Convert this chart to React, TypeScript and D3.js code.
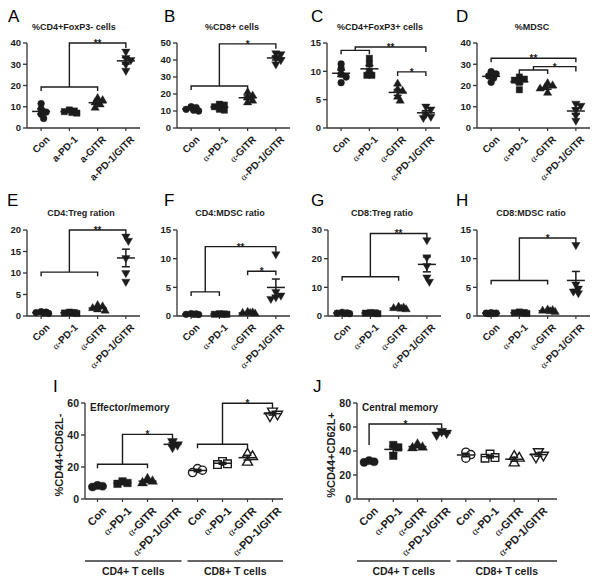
import React from "react";
import * as d3 from "d3";

// ---------- categories ----------
const catsA = ["Con", "a-PD-1", "a-GITR", "a-PD-1/GITR"];
const cats = ["Con", "α-PD-1", "α-GITR", "α-PD-1/GITR"];
const catsIJ = [...cats, ...cats];
const cellGroups = ["CD4+ T cells", "CD8+ T cells"];

// ---------- tick labels ----------
const ticksA = [0, 10, 20, 30, 40];
const ticksB = [0, 10, 20, 30, 40, 50];
const ticksC = [0, 5, 10, 15];
const ticksD = [0, 10, 20, 30, 40];
const ticksE = [0, 5, 10, 15, 20];
const ticksF = [0, 5, 10, 15];
const ticksG = [0, 10, 20, 30];
const ticksH = [0, 5, 10, 15];
const ticksI = [0, 20, 40, 60];
const ticksJ = [0, 20, 40, 60, 80];

// ---------- series values (one array per group) ----------
const cd4FoxP3Neg = [[11.5, 9, 7.5, 6.5, 4.5], [8.5, 8, 7.7, 7.3, 7], [14, 13, 12, 11, 9.5], [36, 33, 32, 30, 27]];
const cd8Pct = [[12.5, 12, 11, 10.5, 10], [14, 13.5, 12.5, 11, 10.5], [21, 19, 18, 16, 15], [44, 43.5, 41, 40, 37.5]];
const cd4FoxP3Pos = [[11.3, 10.5, 9.5, 9, 8], [12.3, 11.3, 10, 9.3, 9.3], [7.8, 6.8, 6.5, 5.5, 4.8], [3.8, 3.3, 2.5, 2, 1.8]];
const mdscPct = [[26.5, 25.5, 24.5, 23.5, 21.5], [24, 23, 22.5, 21.5, 18], [21, 20, 19, 18.5, 16.5], [11.5, 10.5, 8.5, 6, 3.5]];
const cd4TregRatio = [[1, 0.9, 0.8, 0.7, 0.6], [0.9, 0.8, 0.7, 0.7, 0.6], [2.5, 2.2, 1.8, 1.5, 1.2], [18.5, 17.5, 13.5, 10, 8]];
const cd4MdscRatio = [[0.4, 0.35, 0.3, 0.3, 0.25], [0.4, 0.35, 0.3, 0.3, 0.3], [0.7, 0.6, 0.5, 0.5, 0.4], [10.8, 4.2, 3.6, 3.3, 3.0]];
const cd8TregRatio = [[1.3, 1.1, 1, 0.9, 0.8], [1.2, 1.1, 1, 0.9, 0.8], [3.2, 2.9, 2.7, 2.5, 2.3], [26.5, 20.5, 17.5, 13.5, 12]];
const cd8MdscRatio = [[0.6, 0.5, 0.5, 0.45, 0.4], [0.7, 0.6, 0.55, 0.5, 0.45], [1.1, 1.0, 0.9, 0.8, 0.7], [12.4, 5.5, 4.8, 4.3, 4.0]];
const effectorMemory = [[8.5, 8, 7.5], [11, 10, 9.5], [12.5, 11, 10], [36, 34, 32.5], [19, 18, 16.5], [23.5, 22, 21.5], [28, 26.5, 23], [55, 53, 52]];
const centralMemory = [[32, 31, 30.5], [45, 43, 36], [45.5, 43, 42.5], [56.5, 55, 53.5], [39, 37, 34], [37.5, 34.5, 34], [35.5, 34, 30], [39.5, 36.5, 35]];

// ---------- significance brackets (values in data units) ----------
type Bracket =
  | { type: "group"; from: [number, number]; level: number; top: number; to: number; label: string }
  | { type: "simple"; from: number; to: number; level: number; label: string; endL?: number; endR?: number };

const bracketsA: Bracket[] = [{ type: "group", from: [0, 2], level: 19.3, top: 40, to: 3, label: "**" }];
const bracketsB: Bracket[] = [{ type: "group", from: [0, 2], level: 24.7, top: 49.5, to: 3, label: "*" }];
const bracketsC: Bracket[] = [
  { type: "group", from: [0, 1], level: 13.7, top: 14.3, to: 3, label: "**" },
  { type: "simple", from: 2, to: 3, level: 9.9, label: "*" },
];
const bracketsD: Bracket[] = [
  { type: "simple", from: 0, to: 3, level: 32.8, label: "**" },
  { type: "group", from: [1, 2], level: 27.3, top: 28.9, to: 3, label: "*" },
];
const bracketsE: Bracket[] = [{ type: "group", from: [0, 2], level: 10.2, top: 20, to: 3, label: "**" }];
const bracketsF: Bracket[] = [
  { type: "group", from: [0, 1], level: 4.2, top: 12.1, to: 3, label: "**" },
  { type: "simple", from: 2, to: 3, level: 7.8, label: "*" },
];
const bracketsG: Bracket[] = [{ type: "group", from: [0, 2], level: 13.7, top: 28.8, to: 3, label: "**" }];
const bracketsH: Bracket[] = [{ type: "group", from: [0, 2], level: 6.2, top: 13.6, to: 3, label: "*" }];
const bracketsI: Bracket[] = [
  { type: "group", from: [0, 2], level: 21.7, top: 40.4, to: 3, label: "*" },
  { type: "group", from: [4, 6], level: 34.2, top: 59.8, to: 7, label: "*" },
];
const bracketsJ: Bracket[] = [{ type: "simple", from: 0, to: 3, level: 62.5, label: "*", endL: 45, endR: 59 }];

// ---------- style ----------
const FONT = "'Liberation Sans', Arial, Helvetica, sans-serif";
const SERIF = "'Liberation Serif', 'Times New Roman', serif";
const INK = "#1c1c1c";
const AXIS = "#333";

type Shape = "circle" | "square" | "tri" | "triDown";
const shapes8: Shape[] = ["circle", "square", "tri", "triDown", "circle", "square", "tri", "triDown"];

function Marker({ shape, open, cx, cy, scale }: { shape: Shape; open: boolean; cx: number; cy: number; scale: number }) {
  const sizes: Record<Shape, number> = { circle: 36, square: 40, tri: 30, triDown: 30 };
  const type = shape === "circle" ? d3.symbolCircle : shape === "square" ? d3.symbolSquare : d3.symbolTriangle;
  const d = d3.symbol().type(type).size(sizes[shape] * scale * scale)() || "";
  const rot = shape === "triDown" ? " rotate(180)" : "";
  return (
    <path
      d={d}
      transform={`translate(${cx},${cy})${rot}`}
      fill={open ? "#fff" : INK}
      stroke={INK}
      strokeWidth={open ? 1.4 : 0.4}
    />
  );
}

// compact horizontal spread (Prism-like scatter), capped at +/- maxOff px
function swarm(ys: number[], dist: number, maxOff: number): number[] {
  const placed: { x: number; y: number }[] = [];
  const cands = [0];
  for (let k = 1; k * 2.5 <= maxOff + 0.01; k++) cands.push(k * 2.5, -k * 2.5);
  return ys.map((yy) => {
    let best = 0;
    let bestScore = -1;
    for (const c of cands) {
      const md = placed.length ? Math.min(...placed.map((p) => Math.hypot(p.x - c, p.y - yy))) : Infinity;
      if (md >= dist) {
        best = c;
        bestScore = Infinity;
        break;
      }
      if (md > bestScore) {
        bestScore = md;
        best = c;
      }
    }
    placed.push({ x: best, y: yy });
    return best;
  });
}

function CatLabel({ text, x, y, size }: { text: string; x: number; y: number; size: number }) {
  const alpha = text.startsWith("α");
  return (
    <text
      transform={`translate(${x},${y}) rotate(-45)`}
      textAnchor="end"
      dy="0.72em"
      fontSize={size}
      fontWeight="bold"
      fontFamily={FONT}
      fill={INK}
    >
      {alpha ? (
        <>
          <tspan fontFamily={SERIF} fontWeight="normal">α</tspan>
          {text.slice(1)}
        </>
      ) : (
        text
      )}
    </text>
  );
}

type PanelSpec = {
  letter: string;
  letterX: number;
  letterY: number;
  title: string;
  titleX: number;
  titleY: number;
  cats: string[];
  values: number[][];
  ticks: number[];
  brackets: Bracket[];
  x0: number;
  x1: number;
  axisEnd: number;
  yBottom: number;
  yTop: number;
  tickFont: number;
  catFont: number;
  markerScale: number;
  titleAnchor: "middle" | "start";
  titleFont: number;
  spread: number;
  yTitle?: string;
  yTitleX?: number;
};

function Panel({ p }: { p: PanelSpec }) {
  const yMax = p.ticks[p.ticks.length - 1];
  const y = d3.scaleLinear().domain([0, yMax]).range([p.yBottom, p.yTop]);
  const x = d3.scalePoint<number>().domain(d3.range(p.cats.length)).range([p.x0, p.x1]).padding(0.5);
  const X = (i: number) => x(i) as number;
  const drop = 4;

  return (
    <g>
      <text x={p.letterX} y={p.letterY} fontSize={17} fontFamily={FONT} fill="#000">
        {p.letter}
      </text>
      <text x={p.titleX} y={p.titleY} fontSize={p.titleFont} fontWeight="bold" fontFamily={FONT} textAnchor={p.titleAnchor} fill={INK}>
        {p.title}
      </text>
      {/* y axis */}
      <line x1={p.x0} x2={p.x0} y1={y(0)} y2={y(yMax)} stroke={AXIS} strokeWidth={1.3} />
      {p.ticks.map((t) => (
        <g key={"t" + t}>
          <line x1={p.x0 - 4} x2={p.x0} y1={y(t)} y2={y(t)} stroke={AXIS} strokeWidth={1.3} />
          <text x={p.x0 - 6} y={y(t)} dy="0.35em" textAnchor="end" fontSize={p.tickFont} fontWeight="bold" fontFamily={FONT} fill={INK}>
            {t}
          </text>
        </g>
      ))}
      {/* x axis */}
      <line x1={p.x0} x2={p.axisEnd} y1={y(0)} y2={y(0)} stroke={AXIS} strokeWidth={1.3} />
      {p.cats.map((c, i) => (
        <g key={"c" + i}>
          <line x1={X(i)} x2={X(i)} y1={y(0)} y2={y(0) + 3} stroke={AXIS} strokeWidth={1.2} />
          <CatLabel text={c} x={X(i) + 4} y={y(0) + 7} size={p.catFont} />
        </g>
      ))}
      {p.yTitle && (
        <text
          transform={`translate(${p.yTitleX},${(p.yBottom + p.yTop) / 2 + 4}) rotate(-90)`}
          textAnchor="middle"
          fontSize={11}
          fontWeight="bold"
          fontFamily={FONT}
          fill={INK}
        >
          {p.yTitle}
        </text>
      )}
      {/* points, means, SEM */}
      {p.values.map((vals, i) => {
        const cx = X(i);
        const ys = vals.map((v) => y(v));
        const offs = swarm(ys, 4.5 * p.markerScale, p.spread);
        const m = d3.mean(vals) as number;
        const sd = d3.deviation(vals) as number;
        const sem = sd / Math.sqrt(vals.length);
        const open = i >= 4;
        const hw = 9;
        const cw = 4;
        return (
          <g key={"g" + i}>
            {vals.map((v, j) => (
              <Marker key={j} shape={shapes8[i]} open={open} cx={cx + offs[j]} cy={y(v)} scale={p.markerScale} />
            ))}
            <line x1={cx - hw} x2={cx + hw} y1={y(m)} y2={y(m)} stroke={INK} strokeWidth={1.5} />
            <line x1={cx} x2={cx} y1={y(m - sem)} y2={y(m + sem)} stroke={INK} strokeWidth={1.5} />
            <line x1={cx - cw} x2={cx + cw} y1={y(m + sem)} y2={y(m + sem)} stroke={INK} strokeWidth={1.5} />
            <line x1={cx - cw} x2={cx + cw} y1={y(m - sem)} y2={y(m - sem)} stroke={INK} strokeWidth={1.5} />
          </g>
        );
      })}
      {/* brackets */}
      {p.brackets.map((b, k) => {
        if (b.type === "group") {
          const xa = X(b.from[0]);
          const xb = X(b.from[1]);
          const xm = (xa + xb) / 2;
          const xk = X(b.to);
          const yl = y(b.level);
          const yt = y(b.top);
          const d = `M${xa},${yl + drop}V${yl}H${xb}V${yl + drop}M${xm},${yl}V${yt}H${xk}V${yt + drop + 1}`;
          return (
            <g key={"b" + k}>
              <path d={d} fill="none" stroke={INK} strokeWidth={1.4} />
              <text x={(xm + xk) / 2} y={yt + 4} textAnchor="middle" fontSize={10} fontWeight="bold" fontFamily={FONT} fill={INK}>
                {b.label}
              </text>
            </g>
          );
        }
        const xa = X(b.from);
        const xk = X(b.to);
        const yl = y(b.level);
        const yL = b.endL !== undefined ? y(b.endL) : yl + drop;
        const yR = b.endR !== undefined ? y(b.endR) : yl + drop;
        return (
          <g key={"b" + k}>
            <path d={`M${xa},${yL}V${yl}H${xk}V${yR}`} fill="none" stroke={INK} strokeWidth={1.4} />
            <text x={(xa + xk) / 2} y={yl + 4} textAnchor="middle" fontSize={10} fontWeight="bold" fontFamily={FONT} fill={INK}>
              {b.label}
            </text>
          </g>
        );
      })}
    </g>
  );
}

const row1 = { yBottom: 128, yTop: 43, letterY: 22, titleY: 30 };
const row2 = { yBottom: 316, yTop: 230, letterY: 206, titleY: 216 };
const row3 = { yBottom: 499, yTop: 403, letterY: 392, titleY: 411 };

function small(
  letter: string,
  letterX: number,
  title: string,
  titleX: number,
  catsL: string[],
  values: number[][],
  ticks: number[],
  brackets: Bracket[],
  x0: number,
  row: typeof row1
): PanelSpec {
  return {
    letter, letterX, letterY: row.letterY, title, titleX, titleY: row.titleY, cats: catsL, values, ticks, brackets,
    x0, x1: x0 + 113, axisEnd: x0 + 113, yBottom: row.yBottom, yTop: row.yTop,
    tickFont: 9.5, catFont: 10, markerScale: 1, titleAnchor: "middle", titleFont: 9, spread: 7.5,
  };
}

const panels: PanelSpec[] = [
  small("A", 8, "%CD4+FoxP3- cells", 74, catsA, cd4FoxP3Neg, ticksA, bracketsA, 27, row1),
  small("B", 164, "%CD8+ cells", 232, cats, cd8Pct, ticksB, bracketsB, 177, row1),
  small("C", 311, "%CD4+FoxP3+ cells", 380, cats, cd4FoxP3Pos, ticksC, bracketsC, 327, row1),
  small("D", 456, "%MDSC", 532, cats, mdscPct, ticksD, bracketsD, 477, row1),
  small("E", 7, "CD4:Treg ration", 81, cats, cd4TregRatio, ticksE, bracketsE, 27, row2),
  small("F", 164, "CD4:MDSC ratio", 230, cats, cd4MdscRatio, ticksF, bracketsF, 177, row2),
  small("G", 311, "CD8:Treg ratio", 382, cats, cd8TregRatio, ticksG, bracketsG, 328, row2),
  small("H", 456, "CD8:MDSC ratio", 531, cats, cd8MdscRatio, ticksH, bracketsH, 477, row2),
  {
    letter: "I", letterX: 53, letterY: row3.letterY, title: "Effector/memory", titleX: 90, titleY: row3.titleY,
    cats: catsIJ, values: effectorMemory, ticks: ticksI, brackets: bracketsI,
    x0: 85, x1: 285, axisEnd: 283, yBottom: row3.yBottom, yTop: row3.yTop,
    tickFont: 10.5, catFont: 11, markerScale: 1.2, titleAnchor: "start", titleFont: 10, spread: 5,
    yTitle: "%CD44+CD62L-", yTitleX: 63,
  },
  {
    letter: "J", letterX: 313, letterY: row3.letterY, title: "Central memory", titleX: 362, titleY: row3.titleY,
    cats: catsIJ, values: centralMemory, ticks: ticksJ, brackets: bracketsJ,
    x0: 357, x1: 550.5, axisEnd: 557, yBottom: row3.yBottom, yTop: row3.yTop,
    tickFont: 10.5, catFont: 11, markerScale: 1.2, titleAnchor: "start", titleFont: 10, spread: 5,
    yTitle: "%CD44+CD62L+", yTitleX: 335,
  },
];

// group underline spans for I and J
const groupSpans = [
  { x0: 85, x1: 283, split: 184.5 },
  { x0: 357, x1: 557, split: 453.5 },
];

export default function App() {
  return (
    <svg
      width={600}
      height={588}
      viewBox="0 0 600 588"
      style={{ position: "absolute", left: 0, top: 0, background: "#fff" }}
    >
      <rect width={600} height={588} fill="#fff" />
      {panels.map((p) => (
        <Panel key={p.letter} p={p} />
      ))}
      {groupSpans.map((g, gi) => (
        <g key={"gs" + gi}>
          <line x1={g.x0} x2={g.split - 3} y1={561} y2={561} stroke={AXIS} strokeWidth={1.4} />
          <line x1={g.split + 3} x2={g.x1} y1={561} y2={561} stroke={AXIS} strokeWidth={1.4} />
          {cellGroups.map((cg, k) => (
            <text
              key={cg}
              x={k === 0 ? (g.x0 + g.split - 3) / 2 : (g.split + 3 + g.x1) / 2}
              y={575}
              textAnchor="middle"
              fontSize={10.5}
              fontWeight="bold"
              fontFamily={FONT}
              fill={INK}
            >
              {cg}
            </text>
          ))}
        </g>
      ))}
    </svg>
  );
}
